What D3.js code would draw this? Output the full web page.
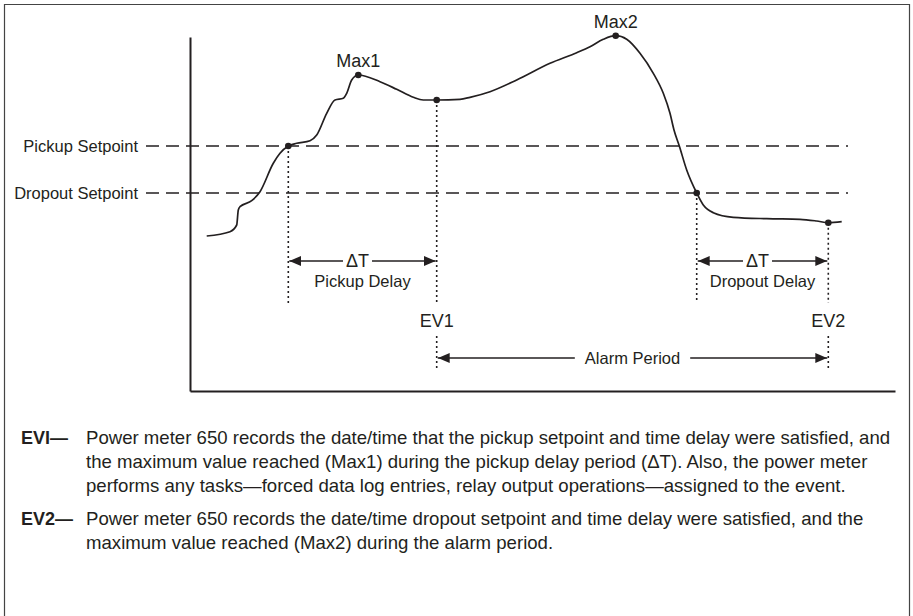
<!DOCTYPE html>
<html>
<head>
<meta charset="utf-8">
<script src="https://cdn.jsdelivr.net/npm/d3@7"></script>
<style>
  body { margin: 0; background: #fff; }
  text { font-family: "Liberation Sans", Arial, Helvetica, sans-serif; fill: #231f20; }
</style>
</head>
<body>
<div id="chart"></div>
<script>
// Data: measured signal (time in s, value in arbitrary units)
var times  = [1.67, 4.0, 4.67, 4.83, 5.0, 6.17, 7.0, 8.33, 9.0, 9.83, 10.67, 12.0, 12.67, 13.67,
              14.5, 15.33, 15.67, 16.17, 16.83, 19.0, 20.67, 22.33, 23.33, 24.67, 27.0, 28.0,
              30.0, 32.67, 36.0, 38.67, 40.0, 41.33, 42.57, 43.67, 45.0, 46.33, 47.33, 48.0,
              48.4, 48.93, 49.67, 50.67, 51.33, 52.33, 54.33, 57.67, 61.0, 62.67, 63.83, 65.17];
var values = [15.5, 15.93, 16.6, 18.1, 18.43, 19.03, 19.93, 22.77, 23.77, 24.5, 24.77, 25.03, 25.6, 27.77,
              29.1, 29.27, 29.77, 31.1, 31.6, 30.93, 30.17, 29.37, 29.1, 29.1, 29.17, 29.37,
              29.93, 31.1, 32.77, 33.83, 34.43, 35.17, 35.53, 35.17, 33.77, 31.77, 29.77, 27.77,
              26.1, 24.5, 22.1, 19.8, 18.6, 17.83, 17.37, 17.23, 17.17, 17.0, 16.83, 16.93];

// Setpoints
var setpointNames  = ["Pickup Setpoint", "Dropout Setpoint"];
var setpointValues = [24.5, 19.8];

// Marked points
var markTimes  = [9.83, 16.83, 24.67, 42.57, 50.67, 63.83];
var markValues = [24.5, 31.6, 29.1, 35.53, 19.8, 16.83];

// Peak labels
var maxNames  = ["Max1", "Max2"];
var maxTimes  = [16.83, 42.57];
var maxValues = [31.6, 35.53];

// Events
var eventNames  = ["EV1", "EV2"];
var eventTimes  = [24.67, 63.83];
var eventValues = [29.1, 16.83];

// Delay periods
var delayNames  = ["Pickup Delay", "Dropout Delay"];
var delayStarts = [9.83, 50.67];
var delayEnds   = [24.67, 63.83];
var delayStartValues = [24.5, 19.8];

// Notes under the chart
var noteKeys  = ["EVI\u2014", "EV2\u2014"];
var noteLines = [
  ["Power meter 650 records the date/time that the pickup setpoint and time delay were satisfied, and",
   "the maximum value reached (Max1) during the pickup delay period (\u0394T). Also, the power meter",
   "performs any tasks\u2014forced data log entries, relay output operations\u2014assigned to the event."],
  ["Power meter 650 records the date/time dropout setpoint and time delay were satisfied, and the",
   "maximum value reached (Max2) during the alarm period."]
];

var chart_width  = 913;
var chart_height = 616;
var ink = "#231f20";

var x = d3.scaleLinear().domain([0, 70.5]).range([190, 895]);
var y = d3.scaleLinear().domain([0, 35.4]).range([391, 37]);

var svg = d3.select('#chart')
            .append('svg')
            .attr('width', chart_width)
            .attr('height', chart_height);

// Arrowhead
var defs = svg.append('defs');
defs.append('marker')
    .attr('id', 'arrow')
    .attr('viewBox', '0 0 12 10')
    .attr('refX', 12).attr('refY', 5)
    .attr('markerWidth', 12).attr('markerHeight', 10)
    .attr('markerUnits', 'userSpaceOnUse')
    .attr('orient', 'auto')
    .append('path')
    .attr('d', 'M0,0 L12,5 L0,10 Z')
    .attr('fill', ink);

// Frame (open at the bottom)
svg.append('path')
   .attr('d', 'M4.5,616 L4.5,4.5 L909.5,4.5 L909.5,616')
   .attr('fill', 'none')
   .attr('stroke', '#444')
   .attr('stroke-width', 1.2);

// Axes, drawn without ticks
svg.append('g')
   .attr('transform', 'translate(0,' + y(0) + ')')
   .call(d3.axisBottom(x).ticks(0).tickSizeOuter(0))
   .select('.domain').attr('stroke', ink).attr('stroke-width', 2);

svg.append('g')
   .attr('transform', 'translate(' + x(0) + ',0)')
   .call(d3.axisLeft(y).ticks(0).tickSizeOuter(0))
   .select('.domain').attr('stroke', ink).attr('stroke-width', 2);

// Setpoint lines
var sp = svg.selectAll('g.setpoint')
            .data(setpointNames)
            .enter()
            .append('g')
            .classed('setpoint', true);

sp.append('line')
  .attr('x1', x(-4.4)).attr('x2', x(65.8))
  .attr('y1', function(d, i){ return y(setpointValues[i]); })
  .attr('y2', function(d, i){ return y(setpointValues[i]); })
  .attr('stroke', ink)
  .attr('stroke-width', 1.5)
  .attr('stroke-dasharray', '13,7');

sp.append('text')
  .attr('x', x(-5.2))
  .attr('y', function(d, i){ return y(setpointValues[i]) + 5.5; })
  .attr('text-anchor', 'end')
  .attr('font-size', 16.5)
  .text(function(d){ return d; });

// Signal curve
var line = d3.line()
             .x(function(d){ return x(d[0]); })
             .y(function(d){ return y(d[1]); })
             .curve(d3.curveMonotoneX);

svg.append('path')
   .datum(d3.zip(times, values))
   .attr('d', line)
   .attr('fill', 'none')
   .attr('stroke', ink)
   .attr('stroke-width', 1.7);

// Dotted guides
var dotted = function(xv, y1, y2){
  svg.append('line')
     .attr('x1', xv).attr('x2', xv)
     .attr('y1', y1).attr('y2', y2)
     .attr('stroke', ink)
     .attr('stroke-width', 1.6)
     .attr('stroke-dasharray', '2,3');
};

delayStarts.forEach(function(t, i){
  dotted(x(t), y(delayStartValues[i]), 303);
});
eventTimes.forEach(function(t, i){
  dotted(x(t), y(eventValues[i]), 303);
  dotted(x(t), 336, 371);
});

// Marker dots
svg.selectAll('circle.mark')
   .data(d3.zip(markTimes, markValues))
   .enter()
   .append('circle')
   .classed('mark', true)
   .attr('cx', function(d){ return x(d[0]); })
   .attr('cy', function(d){ return y(d[1]); })
   .attr('r', 3.3)
   .attr('fill', ink);

// Max labels
svg.selectAll('text.max')
   .data(maxNames)
   .enter()
   .append('text')
   .classed('max', true)
   .attr('x', function(d, i){ return x(maxTimes[i]); })
   .attr('y', function(d, i){ return y(maxValues[i]) - 8; })
   .attr('text-anchor', 'middle')
   .attr('font-size', 18)
   .text(function(d){ return d; });

// Event labels
svg.selectAll('text.event')
   .data(eventNames)
   .enter()
   .append('text')
   .classed('event', true)
   .attr('x', function(d, i){ return x(eventTimes[i]); })
   .attr('y', 327)
   .attr('text-anchor', 'middle')
   .attr('font-size', 18)
   .text(function(d){ return d; });

// Arrow with a label breaking the line
var labelledArrow = function(x1, x2, ay, label, size, cx){
  var t = svg.append('text')
             .attr('x', cx)
             .attr('y', ay + size * 0.36)
             .attr('text-anchor', 'middle')
             .attr('font-size', size)
             .text(label);
  var w = t.node().getComputedTextLength();
  var pad = size > 17 ? 3 : 10;
  svg.append('line')
     .attr('x1', cx - w / 2 - pad).attr('x2', x1 + 1)
     .attr('y1', ay).attr('y2', ay)
     .attr('stroke', ink).attr('stroke-width', 1.3)
     .attr('marker-end', 'url(#arrow)');
  svg.append('line')
     .attr('x1', cx + w / 2 + pad).attr('x2', x2 - 1)
     .attr('y1', ay).attr('y2', ay)
     .attr('stroke', ink).attr('stroke-width', 1.3)
     .attr('marker-end', 'url(#arrow)');
};

delayNames.forEach(function(name, i){
  var x1 = x(delayStarts[i]), x2 = x(delayEnds[i]);
  var cx = (x1 + x2) / 2 - 5;
  labelledArrow(x1, x2, 261, '\u0394T', 18, cx);
  svg.append('text')
     .attr('x', (x1 + x2) / 2)
     .attr('y', 287)
     .attr('text-anchor', 'middle')
     .attr('font-size', 16.5)
     .text(name);
});

// Alarm period
labelledArrow(x(eventTimes[0]), x(eventTimes[1]), 358, 'Alarm Period', 16.5,
              (x(eventTimes[0]) + x(eventTimes[1])) / 2);

// Notes
var rowY = 444;
noteKeys.forEach(function(key, i){
  svg.append('text')
     .attr('x', 21)
     .attr('y', rowY)
     .attr('font-size', 18)
     .attr('font-weight', 'bold')
     .text(key);
  noteLines[i].forEach(function(l){
    svg.append('text')
       .attr('x', 86)
       .attr('y', rowY)
       .attr('font-size', 18.6)
       .text(l);
    rowY += 24;
  });
  rowY += 9;
});
</script>
</body>
</html>
